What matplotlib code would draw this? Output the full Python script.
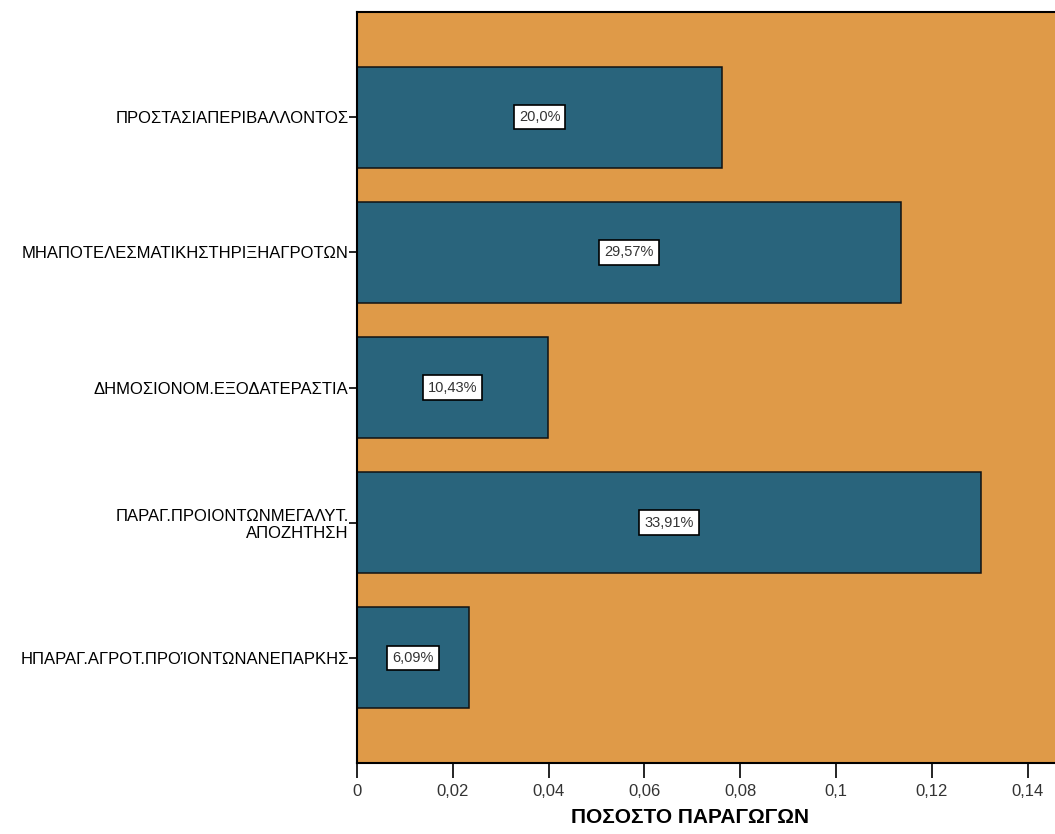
import matplotlib
matplotlib.use("Agg")
from matplotlib import pyplot as plt

categories = [
    'ΠΡΟΣΤΑΣΙΑΠΕΡΙΒΑΛΛΟΝΤΟΣ',
    'ΜΗΑΠΟΤΕΛΕΣΜΑΤΙΚΗΣΤΗΡΙΞΗΑΓΡΟΤΩΝ',
    'ΔΗΜΟΣΙΟΝΟΜ.ΕΞΟΔΑΤΕΡΑΣΤΙΑ',
    'ΠΑΡΑΓ.ΠΡΟΙΟΝΤΩΝΜΕΓΑΛΥΤ.\nΑΠΟΖΗΤΗΣΗ',
    'ΗΠΑΡΑΓ.ΑΓΡΟΤ.ΠΡΟΊΟΝΤΩΝΑΝΕΠΑΡΚΗΣ',
]
values = [0.0762, 0.1136, 0.0399, 0.1303, 0.0234]
pct_labels = ['20,0%', '29,57%', '10,43%', '33,91%', '6,09%']
xticks = [0, 0.02, 0.04, 0.06, 0.08, 0.1, 0.12, 0.14]
xtick_labels = ['0', '0,02', '0,04', '0,06', '0,08', '0,1', '0,12', '0,14']

plt.rcParams['font.family'] = ['Liberation Sans Narrow', 'Liberation Sans', 'DejaVu Sans']

fig = plt.figure(figsize=(10.55, 8.34), dpi=100)
ax = fig.add_axes([0.3384, 0.0851, 0.6616, 0.9005])
ax.set_facecolor('#DF9A48')

pos = list(range(len(categories)))
ax.barh(pos, values, height=0.75, color='#29647C', edgecolor='#111111', linewidth=1.1)
for p, v, lab in zip(pos, values, pct_labels):
    ax.text(v / 2, p, lab, ha='center', va='center', fontsize=10.5, color='#333333',
            bbox=dict(boxstyle='square,pad=0.35', facecolor='white', edgecolor='black', linewidth=1.2))

ax.set_ylim(4.78, -0.78)
ax.set_xlim(0, 0.1457)
ax.set_yticks(pos)
ax.set_yticklabels(categories, fontsize=12)
ax.set_xticks(xticks)
ax.set_xticklabels(xtick_labels, fontsize=12, color='#333333')
ax.tick_params(axis='y', length=6, width=1.2, pad=0)
ax.tick_params(axis='x', length=11, width=1.2, pad=4)
ax.set_xlabel('ΠΟΣΟΣΤΟ ΠΑΡΑΓΩΓΩΝ', fontsize=15, fontweight='bold')
ax.xaxis.set_label_coords(0.477, -0.06)
for s in ['left', 'top', 'bottom']:
    ax.spines[s].set_linewidth(1.5)
ax.spines['right'].set_visible(False)

fig.savefig('out.png', dpi=100)
